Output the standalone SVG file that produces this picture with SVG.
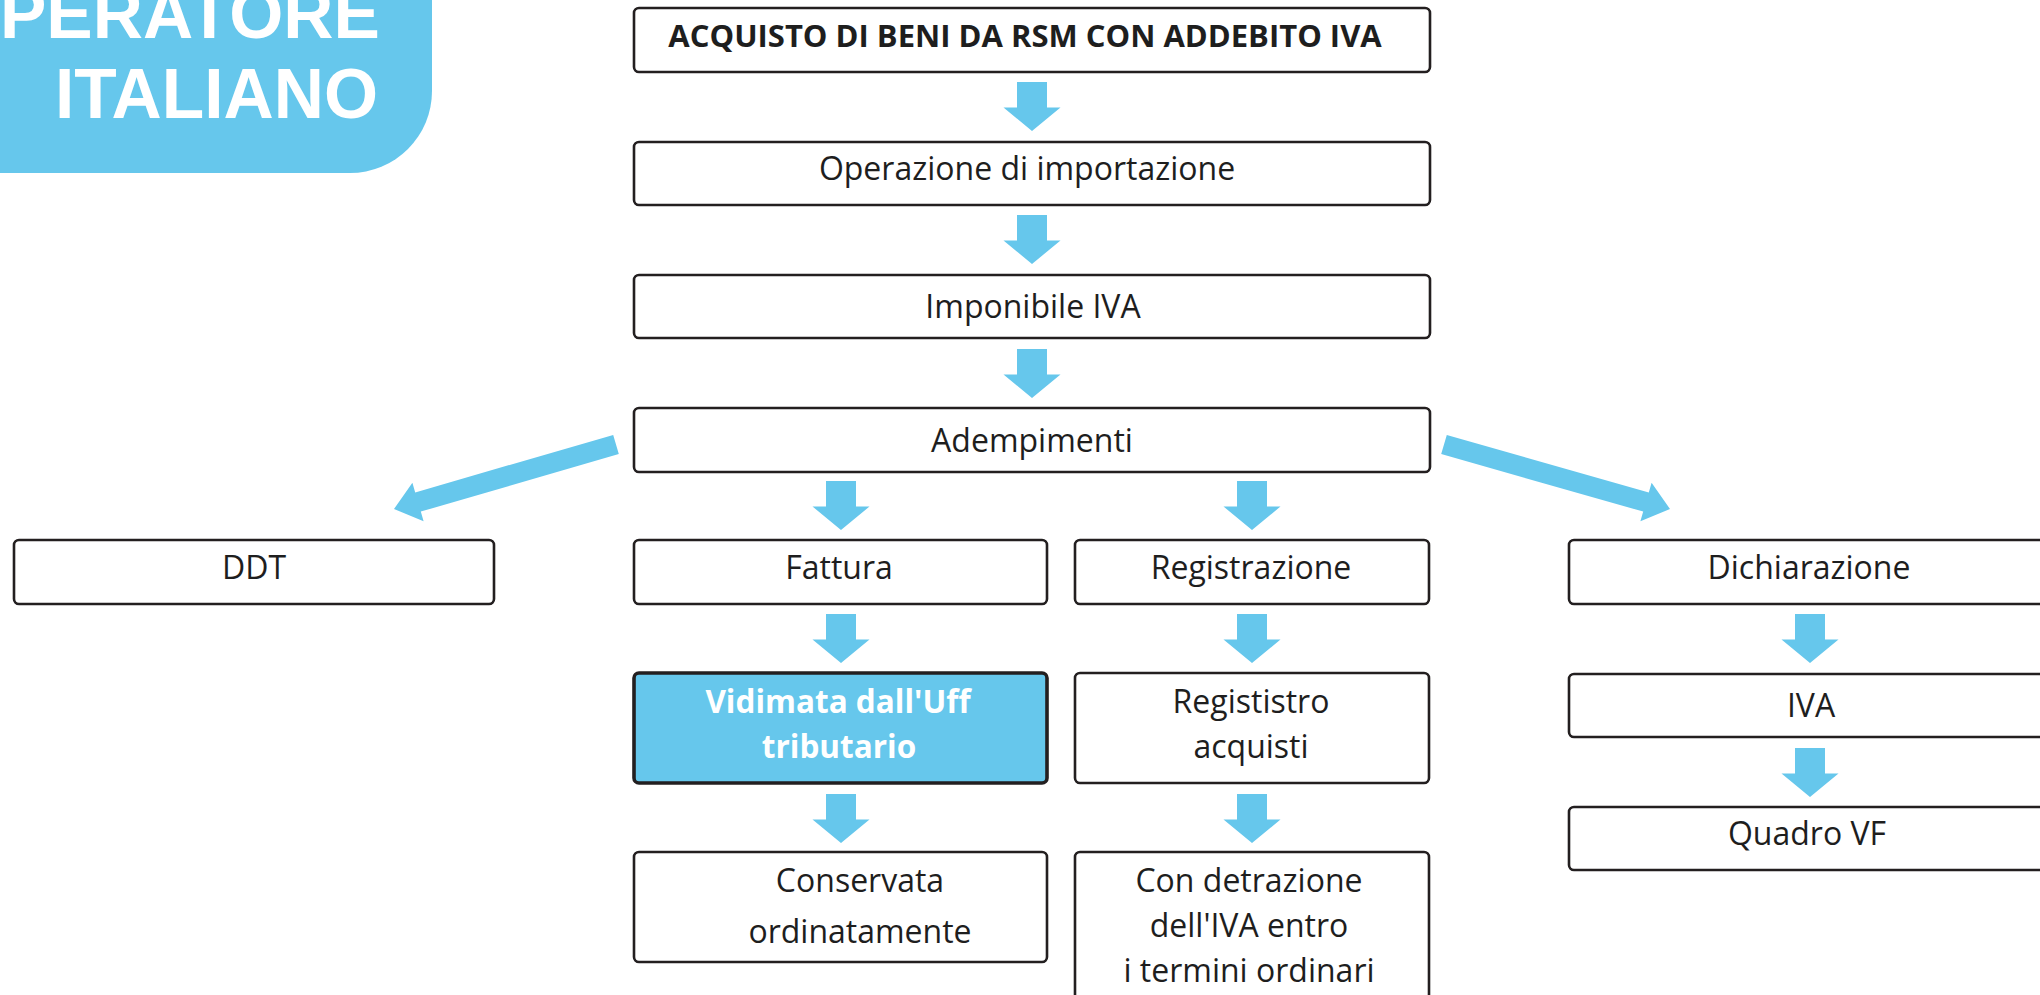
<svg xmlns="http://www.w3.org/2000/svg" xmlns:xlink="http://www.w3.org/1999/xlink" width="2040" height="995" viewBox="0 0 2040 995">
<style>
.box{fill:#ffffff;stroke:#231f20;stroke-width:2.6}
.hl{fill:#66c7ec;stroke:#231f20;stroke-width:3.6}
.t{font-family:"Open Sans","Liberation Sans",sans-serif;font-size:32px;fill:#1e1e1e;text-anchor:middle}
.tb{font-family:"Open Sans","Liberation Sans",sans-serif;font-size:31px;font-weight:bold;fill:#1e1e1e;text-anchor:middle}
.tw{font-family:"Open Sans","Liberation Sans",sans-serif;font-size:31.5px;font-weight:bold;fill:#ffffff;text-anchor:middle}
.hd{font-family:"Liberation Sans",Arial,sans-serif;font-size:69.5px;font-weight:bold;fill:#ffffff}
.arr{fill:#66c7ec}
</style>
<defs>
<path id="darr" d="M -15 0 H 15 V 25.5 H 28.5 L 0 49 L -28.5 25.5 H -15 Z"/>
</defs>
<rect width="2040" height="995" fill="#ffffff"/>

<g id="header">
<path d="M -5 -5 H 432 V 91 A 82 82 0 0 1 350 173 H -5 Z" fill="#66c7ec"/>
<text class="hd" x="0" y="38">PERATORE</text>
<text class="hd" x="55" y="118">ITALIANO</text>
</g>

<g id="n-acquisto"><rect class="box" x="634" y="8" width="796" height="64" rx="5"/><text class="tb" x="1025" y="47">ACQUISTO DI BENI DA RSM CON ADDEBITO IVA</text></g>
<g id="n-operazione"><rect class="box" x="634" y="142" width="796" height="63" rx="5"/><text class="t" x="1027" y="180">Operazione di importazione</text></g>
<g id="n-imponibile"><rect class="box" x="634" y="275" width="796" height="63" rx="5"/><text class="t" x="1033" y="318">Imponibile IVA</text></g>
<g id="n-adempimenti"><rect class="box" x="634" y="408" width="796" height="64" rx="5"/><text class="t" x="1032" y="452">Adempimenti</text></g>

<g id="n-ddt"><rect class="box" x="14" y="540" width="480" height="64" rx="5"/><text class="t" x="254" y="579">DDT</text></g>
<g id="n-fattura"><rect class="box" x="634" y="540" width="413" height="64" rx="5"/><text class="t" x="839" y="579">Fattura</text></g>
<g id="n-registrazione"><rect class="box" x="1075" y="540" width="354" height="64" rx="5"/><text class="t" x="1251" y="579">Registrazione</text></g>
<g id="n-dichiarazione"><rect class="box" x="1569" y="540" width="485" height="64" rx="5"/><text class="t" x="1809" y="579">Dichiarazione</text></g>

<g id="n-vidimata"><rect class="hl" x="634" y="673" width="413" height="110" rx="5"/><text class="tw" x="838" y="713">Vidimata dall'Uff</text><text class="tw" x="839" y="758">tributario</text></g>
<g id="n-regististro"><rect class="box" x="1075" y="673" width="354" height="110" rx="5"/><text class="t" x="1251" y="713">Regististro</text><text class="t" x="1251" y="758">acquisti</text></g>
<g id="n-iva"><rect class="box" x="1569" y="674" width="485" height="63" rx="5"/><text class="t" x="1811" y="717">IVA</text></g>

<g id="n-conservata"><rect class="box" x="634" y="852" width="413" height="110" rx="5"/><text class="t" x="860" y="892">Conservata</text><text class="t" x="860" y="943">ordinatamente</text></g>
<g id="n-detrazione"><rect class="box" x="1075" y="852" width="354" height="160" rx="5"/><text class="t" x="1249" y="892">Con detrazione</text><text class="t" x="1249" y="937">dell'IVA entro</text><text class="t" x="1249" y="982">i termini ordinari</text></g>
<g id="n-quadro"><rect class="box" x="1569" y="807" width="485" height="63" rx="5"/><text class="t" x="1807" y="845">Quadro VF</text></g>

<g id="connectors" class="arr">
<use xlink:href="#darr" href="#darr" transform="translate(1032,82)"/>
<use xlink:href="#darr" href="#darr" transform="translate(1032,215)"/>
<use xlink:href="#darr" href="#darr" transform="translate(1032,349)"/>
<use xlink:href="#darr" href="#darr" transform="translate(841,481)"/>
<use xlink:href="#darr" href="#darr" transform="translate(1252,481)"/>
<use xlink:href="#darr" href="#darr" transform="translate(841,614)"/>
<use xlink:href="#darr" href="#darr" transform="translate(1252,614)"/>
<use xlink:href="#darr" href="#darr" transform="translate(841,794)"/>
<use xlink:href="#darr" href="#darr" transform="translate(1252,794)"/>
<use xlink:href="#darr" href="#darr" transform="translate(1810,614)"/>
<use xlink:href="#darr" href="#darr" transform="translate(1810,748)"/>
<polygon points="613.2,434.9 618.8,454.1 420.8,511.6 423.6,521.2 394,509 412.4,482.8 415.2,492.4"/>
<polygon points="1446.8,434.9 1441.2,454.1 1643.2,511.6 1640.4,521.2 1670,509 1651.6,482.8 1648.8,492.4"/>
</g>
</svg>
